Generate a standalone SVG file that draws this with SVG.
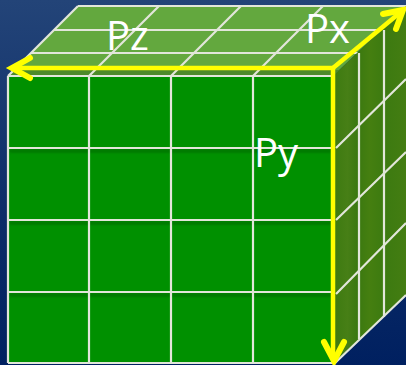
<svg xmlns="http://www.w3.org/2000/svg" width="406" height="365" viewBox="0 0 406 365">
<defs>
<linearGradient id="bg" x1="0" y1="0" x2="0" y2="1"><stop offset="0" stop-color="#234478"/><stop offset="0.6" stop-color="#0c2c68"/><stop offset="1" stop-color="#002060"/></linearGradient>
<linearGradient id="side" x1="0" y1="0" x2="1" y2="0"><stop offset="0" stop-color="#3c7a10"/><stop offset="0.2" stop-color="#477f16"/><stop offset="0.33" stop-color="#3a7810"/><stop offset="0.5" stop-color="#457f10"/><stop offset="0.7" stop-color="#3c7a10"/><stop offset="1" stop-color="#447d12"/></linearGradient>
<filter id="soft" x="-5%" y="-5%" width="110%" height="110%"><feGaussianBlur stdDeviation="0.6"/></filter>
<filter id="shade" x="-5%" y="-20%" width="110%" height="140%"><feGaussianBlur stdDeviation="1.5"/></filter>
</defs>
<style>
.g{fill:none;stroke:#e2e6da;stroke-width:2.2}
.a{fill:none;stroke:#ffff00;stroke-width:4.5}
.h{fill:none;stroke:#ffff00;stroke-width:6;stroke-linecap:round;stroke-linejoin:miter}
.t{font-family:"Open Sans","Noto Sans",sans-serif;font-size:40px;fill:#ffffff}
</style>
<rect id="background" width="406" height="365" fill="url(#bg)"/>
<g id="cube-top">
<polygon points="8,76 78,6 406,6 406,6 333,76" fill="#63a83e"/>
<polygon points="14,70 339,70 333,76 8,76" fill="#4d8a2a"/>
<g filter="url(#soft)">
<path class="g" d="M78,6H406M54,30H383M31,53H360M8,76H333"/>
<path class="g" d="M8,76L78,6M89,76L159,6M171,76L241,6M253,76L323,6"/>
</g>
</g>
<g id="cube-side">
<polygon points="333,76 406,6 406,295 335,363" fill="url(#side)"/>
<g filter="url(#soft)">
<path class="g" d="M359,53V339M384,30V317"/>
<path class="g" d="M336,148L406,79M336,220L406,152M336,294L406,223M335,363L406,295"/>
</g>
</g>
<g id="cube-front">
<rect x="8" y="76" width="325" height="287" fill="#009000"/>
<g filter="url(#shade)" opacity="0.5">
<path fill="none" stroke="#004000" stroke-width="2" d="M9,151H332M9,223H332M9,295H332"/>
</g>
<g filter="url(#soft)">
<path class="g" d="M8,76H333M8,148H333M8,220H333M8,292H333M8,363H335"/>
<path class="g" d="M8,76V363M89,76V363M171,76V363M253,76V363"/>
</g>
</g>
<g id="connectors">
<path class="a" d="M333,68H12"/>
<path class="a" d="M333,68V360"/>
<path class="a" d="M333,68L402,11"/>
<path class="h" d="M30,58L12,68L30,78"/>
<path class="h" d="M324,342L334,361L344,342"/>
<path class="h" d="M383,14L403,10L396,29"/>
</g>
<g id="label-pz"><text class="t" x="106" y="50">Pz</text></g>
<g id="label-px"><text class="t" x="305" y="43">Px</text></g>
<g id="label-py"><text class="t" x="254" y="167">Py</text></g>
</svg>
